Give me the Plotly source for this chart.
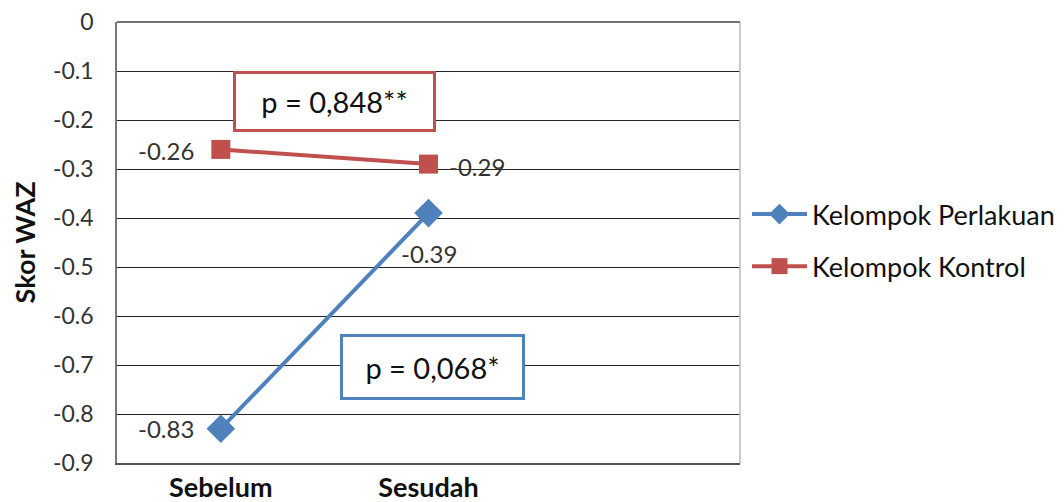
import plotly.graph_objects as go

categories = ["Sebelum", "Sesudah"]
perlakuan = [-0.83, -0.39]
kontrol = [-0.26, -0.29]
y_ticks = [0, -0.1, -0.2, -0.3, -0.4, -0.5, -0.6, -0.7, -0.8, -0.9]
y_ticktext = ["0", "-0.1", "-0.2", "-0.3", "-0.4", "-0.5", "-0.6", "-0.7", "-0.8", "-0.9"]

BLUE = "#4F81BD"
RED = "#C0504D"
FONT = "Lato, Open Sans, sans-serif"
xs = list(range(len(categories)))

fig = go.Figure()
fig.add_trace(go.Scatter(
    x=xs, y=perlakuan, mode="lines+markers", name="Kelompok Perlakuan",
    legendgroup="a",
    line=dict(color=BLUE, width=4),
    marker=dict(symbol="diamond", size=22, color=BLUE),
))
fig.add_trace(go.Scatter(
    x=xs, y=kontrol, mode="lines+markers", name="Kelompok Kontrol",
    legendgroup="b",
    line=dict(color=RED, width=4),
    marker=dict(symbol="square", size=19, color=RED),
))

lab_font = dict(family=FONT, size=24, color="#333333")
# data labels
fig.add_annotation(x=xs[0], y=kontrol[0], text=f"{kontrol[0]:.2f}", showarrow=False,
                   xanchor="right", xshift=-25, yshift=-1, font=lab_font)
fig.add_annotation(x=xs[1], y=kontrol[1], text=f"{kontrol[1]:.2f}", showarrow=False,
                   xanchor="left", xshift=18, yshift=-2, font=lab_font)
fig.add_annotation(x=xs[1], y=perlakuan[1], text=f"{perlakuan[1]:.2f}", showarrow=False,
                   xanchor="center", yshift=-40, font=lab_font)
fig.add_annotation(x=xs[0], y=perlakuan[0], text=f"{perlakuan[0]:.2f}", showarrow=False,
                   xanchor="right", xshift=-25, font=lab_font)

# p-value boxes
fig.add_annotation(x=0.545, y=-0.163, text="p = 0,848**", showarrow=False,
                   font=dict(family=FONT, size=29, color="#111111"),
                   bordercolor=RED, borderwidth=3, bgcolor="white",
                   width=193, height=51, borderpad=2)
fig.add_annotation(x=1.019, y=-0.705, text="p = 0,068*", showarrow=False,
                   font=dict(family=FONT, size=29, color="#111111"),
                   bordercolor=BLUE, borderwidth=3, bgcolor="white",
                   width=175, height=56, borderpad=2)

fig.update_layout(
    width=1056, height=494,
    margin=dict(l=109, r=324, t=14, b=39),
    plot_bgcolor="white", paper_bgcolor="white",
    font=dict(family=FONT, size=23, color="#333333"),
    showlegend=True,
    legend=dict(xref="container", yref="container",
                x=0.6998, y=0.5294, xanchor="left", yanchor="middle",
                font=dict(family=FONT, size=27, color="#111111"),
                tracegroupgap=14, itemwidth=55, bgcolor="rgba(0,0,0,0)"),
    xaxis=dict(range=[-0.5, 2.5], tickvals=xs,
               ticktext=[f"<b>{c}</b>" for c in categories],
               tickfont=dict(family=FONT, size=27, color="#111111"),
               showgrid=False, zeroline=False, showline=True,
               linecolor="#555555", linewidth=1.5, mirror=False,
               ticks="", ticklabelstandoff=0, automargin=False,
               ticklabeloverflow="allow"),
    yaxis=dict(range=[-0.9, 0], tickvals=y_ticks, ticktext=y_ticktext,
               tickfont=dict(family=FONT, size=23, color="#333333"),
               showgrid=True, gridcolor="#222222", gridwidth=1,
               zeroline=False, showline=True, linecolor="#777777", linewidth=1.5,
               ticks="", ticklabelstandoff=17, automargin=False,
               ticklabeloverflow="allow",
               title=dict(text="<b>Skor WAZ</b>", font=dict(family=FONT, size=27, color="#111111"),
                          standoff=12)),
)
# top border (0 gridline) and right border
fig.add_shape(type="line", xref="paper", yref="paper", x0=1, x1=1, y0=0, y1=1,
              line=dict(color="#BBBBBB", width=1.5))
fig.add_shape(type="line", xref="paper", yref="paper", x0=0, x1=1, y0=1, y1=1,
              line=dict(color="#444444", width=1.5))

fig.write_html("out.html")
